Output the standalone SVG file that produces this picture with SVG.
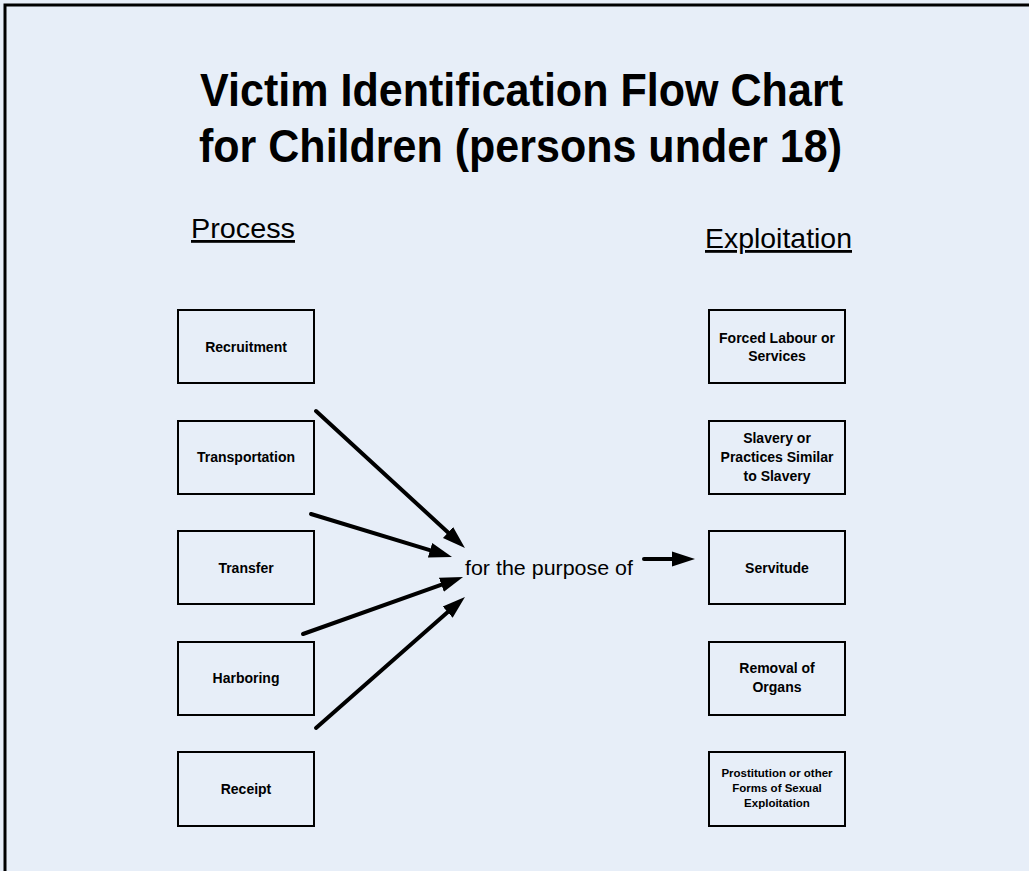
<svg xmlns="http://www.w3.org/2000/svg" width="1029" height="871" viewBox="0 0 1029 871">
<defs>
<style>
.box{fill:none;stroke:#000;stroke-width:2}
.lbl{font-family:"Liberation Sans",Arial,sans-serif;font-weight:bold;font-size:14px;text-anchor:middle;fill:#000}
.sm{font-size:11.5px}
.title{font-family:"Liberation Sans",Arial,sans-serif;font-weight:bold;font-size:47px;fill:#000}
.head{font-family:"Liberation Sans",Arial,sans-serif;font-size:28px;fill:#000;text-decoration:underline}
.arr{stroke:#000;stroke-width:4;fill:none;stroke-linecap:round;marker-end:url(#ah)}
</style>
<marker id="ah" markerUnits="userSpaceOnUse" markerWidth="24" markerHeight="18" viewBox="0 0 24 18" refX="10" refY="9" orient="auto">
<path d="M0,1.5 L23,9 L0,16.5 Z" fill="#000"/>
</marker>
</defs>
<rect x="0" y="0" width="1029" height="871" fill="#e7eef8"/>
<rect x="5" y="5" width="1040" height="890" fill="none" stroke="#000" stroke-width="3"/>
<g id="title">
<text class="title" x="200" y="106" textLength="643" lengthAdjust="spacingAndGlyphs">Victim Identification Flow Chart</text>
<text class="title" x="199" y="162" textLength="643" lengthAdjust="spacingAndGlyphs">for Children (persons under 18)</text>
</g>
<g id="head-process"><text class="head" x="191" y="238" textLength="104" lengthAdjust="spacingAndGlyphs">Process</text></g>
<g id="head-exploitation"><text class="head" x="705" y="248" textLength="147" lengthAdjust="spacingAndGlyphs">Exploitation</text></g>
<g id="recruitment"><rect class="box" x="178" y="310" width="136" height="73"/><text class="lbl" x="246" y="352">Recruitment</text></g>
<g id="transportation"><rect class="box" x="178" y="421" width="136" height="73"/><text class="lbl" x="246" y="462">Transportation</text></g>
<g id="transfer"><rect class="box" x="178" y="531" width="136" height="73"/><text class="lbl" x="246" y="573">Transfer</text></g>
<g id="harboring"><rect class="box" x="178" y="642" width="136" height="73"/><text class="lbl" x="246" y="683">Harboring</text></g>
<g id="receipt"><rect class="box" x="178" y="752" width="136" height="74"/><text class="lbl" x="246" y="794">Receipt</text></g>
<g id="forced-labour"><rect class="box" x="709" y="310" width="136" height="73"/><text class="lbl" x="777" y="343">Forced Labour or</text><text class="lbl" x="777" y="361">Services</text></g>
<g id="slavery"><rect class="box" x="709" y="421" width="136" height="73"/><text class="lbl" x="777" y="443">Slavery or</text><text class="lbl" x="777" y="462">Practices Similar</text><text class="lbl" x="777" y="481">to Slavery</text></g>
<g id="servitude"><rect class="box" x="709" y="531" width="136" height="73"/><text class="lbl" x="777" y="573">Servitude</text></g>
<g id="organs"><rect class="box" x="709" y="642" width="136" height="73"/><text class="lbl" x="777" y="673">Removal of</text><text class="lbl" x="777" y="692">Organs</text></g>
<g id="prostitution"><rect class="box" x="709" y="752" width="136" height="74"/><text class="lbl sm" x="777" y="777">Prostitution or other</text><text class="lbl sm" x="777" y="792">Forms of Sexual</text><text class="lbl sm" x="777" y="807">Exploitation</text></g>
<g id="purpose"><text x="465" y="575" font-family="Liberation Sans,Arial,sans-serif" font-size="21" fill="#000" textLength="168" lengthAdjust="spacingAndGlyphs">for the purpose of</text></g>
<g id="connectors">
<line class="arr" x1="316" y1="411" x2="455.4" y2="539.2"/>
<line class="arr" x1="311" y1="514" x2="439.6" y2="553.2"/>
<line class="arr" x1="303" y1="634" x2="450.8" y2="581.4"/>
<line class="arr" x1="316" y1="728" x2="455.2" y2="605.6"/>
<line class="arr" x1="644" y1="559" x2="682" y2="559"/>
</g>
</svg>
